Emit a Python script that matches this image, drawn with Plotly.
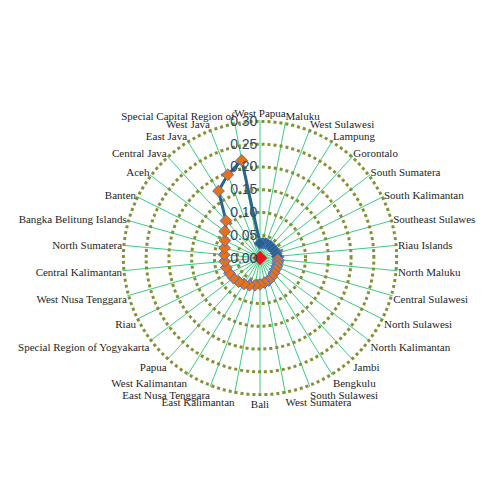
import plotly.graph_objects as go

categories = [
    "West Papua", "Maluku", "West Sulawesi", "Lampung", "Gorontalo",
    "South Sumatera", "South Kalimantan", "Southeast Sulawesi", "Riau Islands",
    "North Maluku", "Central Sulawesi", "North Sulawesi", "North Kalimantan",
    "Jambi", "Bengkulu", "South Sulawesi", "West Sumatera", "Bali",
    "East Kalimantan", "East Nusa Tenggara", "West Kalimantan", "Papua",
    "Special Region of Yogyakarta", "Riau", "West Nusa Tenggara",
    "Central Kalimantan", "North Sumatera", "Bangka Belitung Islands", "Banten",
    "Aceh", "Central Java", "East Java", "West Java", "Special Capital Region of",
]

values = [
    0.032, 0.033, 0.034, 0.034, 0.035,
    0.035, 0.036, 0.037, 0.038,
    0.039, 0.040, 0.041, 0.042,
    0.045, 0.049, 0.053, 0.055, 0.058,
    0.061, 0.064, 0.067, 0.070,
    0.073, 0.075, 0.077,
    0.078, 0.079, 0.081, 0.086,
    0.097, 0.111, 0.173, 0.196, 0.218,
]

center_theta = ["West Papua"]
center_values = [0.0]

radial_ticks = [0.00, 0.05, 0.10, 0.15, 0.20, 0.25, 0.30]

ORANGE = "rgb(232,112,24)"
DARK = "rgb(42,96,136)"
marker_colors = [DARK if i < 9 else ORANGE for i in range(len(values))]

fig = go.Figure()
fig.add_trace(go.Scatterpolar(
    r=values + values[:1],
    theta=categories + categories[:1],
    mode="lines+markers",
    line=dict(color="rgb(38,104,140)", width=3),
    marker=dict(symbol="diamond", size=9,
                color=marker_colors + marker_colors[:1],
                line=dict(color="rgb(72,116,196)", width=1)),
    showlegend=False,
))
fig.add_trace(go.Scatterpolar(
    r=center_values,
    theta=center_theta,
    mode="markers",
    marker=dict(symbol="diamond", size=11, color="rgb(235,20,30)"),
    showlegend=False,
))

cx, cy, R = 252, 250, 138
W, H = 484, 494
fig.update_layout(
    width=W, height=H,
    margin=dict(l=0, r=0, t=0, b=0),
    paper_bgcolor="white",
    plot_bgcolor="white",
    polar=dict(
        domain=dict(x=[(cx - R) / W, (cx + R) / W],
                    y=[(H - cy - R) / H, (H - cy + R) / H]),
        bgcolor="white",
        radialaxis=dict(
            range=[0, 0.303],
            tickvals=radial_ticks,
            tickformat=".2f",
            angle=90,
            tickangle=90,
            side="counterclockwise",
            showline=False,
            ticks="",
            gridcolor="rgb(128,146,52)",
            gridwidth=2.5,
            griddash="dot",
            tickfont=dict(family="Liberation Sans", size=14, color="rgb(52,70,105)"),
            layer="above traces",
        ),
        angularaxis=dict(
            direction="clockwise",
            rotation=90,
            showline=False,
            ticks="",
            gridcolor="rgb(60,205,130)",
            gridwidth=1,
            tickfont=dict(family="Liberation Serif", size=11, color="rgb(30,30,30)"),
        ),
    ),
)

fig.write_html("out.html")
